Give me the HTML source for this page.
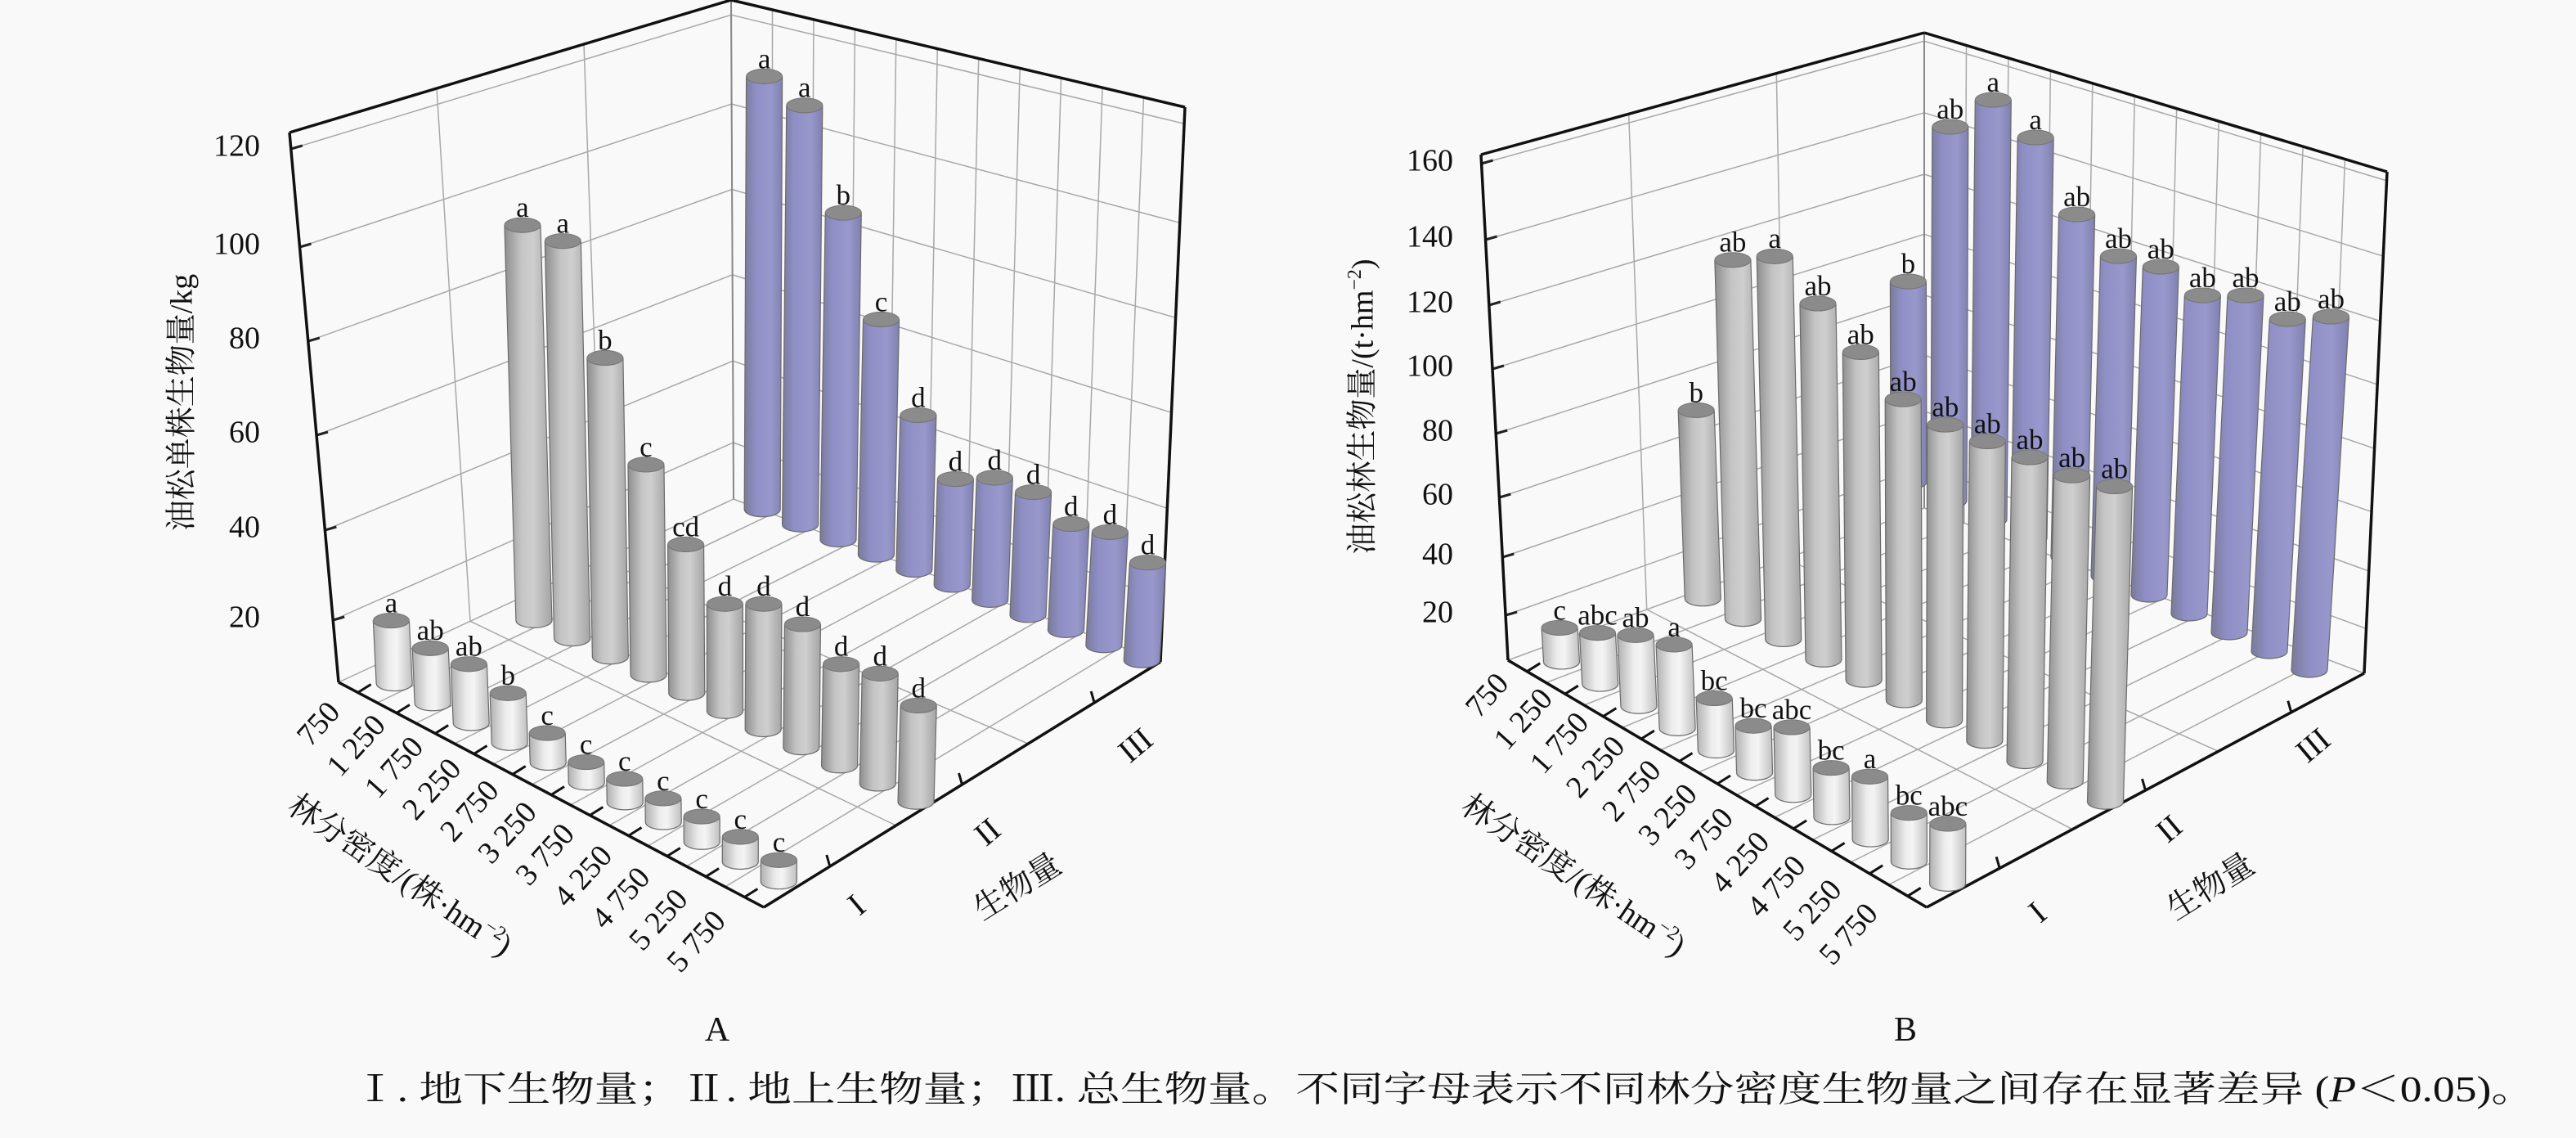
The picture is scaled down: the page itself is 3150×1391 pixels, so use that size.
<!DOCTYPE html>
<html><head><meta charset="utf-8">
<style>
html,body{margin:0;padding:0;background:#f9f9f9;}
svg{display:block;}
text{font-family:"Liberation Serif","Noto Serif CJK SC",serif;fill:#111;}
</style></head>
<body>
<svg id="s" width="3150" height="1391" viewBox="0 0 3150 1391" xmlns="http://www.w3.org/2000/svg">
<defs>
<linearGradient id="gG" x1="0" x2="1" y1="0" y2="0">
<stop offset="0" stop-color="#8e8e8e"/><stop offset="0.35" stop-color="#c4c4c4"/><stop offset="0.6" stop-color="#cfcfcf"/><stop offset="1" stop-color="#a4a4a4"/></linearGradient>
<linearGradient id="gL" x1="0" x2="1" y1="0" y2="0">
<stop offset="0" stop-color="#b0b0b0"/><stop offset="0.4" stop-color="#ececec"/><stop offset="0.6" stop-color="#f4f4f4"/><stop offset="1" stop-color="#c0c0c0"/></linearGradient>
<linearGradient id="gP" x1="0" x2="1" y1="0" y2="0">
<stop offset="0" stop-color="#7a7a9a"/><stop offset="0.3" stop-color="#8f8fc6"/><stop offset="0.7" stop-color="#9898cc"/><stop offset="1" stop-color="#8080b0"/></linearGradient>
</defs>
<g id="g"></g>
<text x="877" y="1272" font-size="42" text-anchor="middle">A</text>
<text x="2330" y="1272" font-size="42" text-anchor="middle">B</text>
<text x="432" y="1346" font-size="44" textLength="2668" lengthAdjust="spacingAndGlyphs">Ⅰ. 地下生物量；Ⅱ. 地上生物量；Ⅲ. 总生物量。不同字母表示不同林分密度生物量之间存在显著差异 (<tspan font-style="italic">P</tspan>＜0.05)。</text>
</svg>
<script>
var out=[];
function lerp(a,b,t){return [a[0]+(b[0]-a[0])*t,a[1]+(b[1]-a[1])*t];}
function line(a,b,c,w){out.push('<line x1="'+a[0].toFixed(1)+'" y1="'+a[1].toFixed(1)+'" x2="'+b[0].toFixed(1)+'" y2="'+b[1].toFixed(1)+'" stroke="'+c+'" stroke-width="'+w+'"/>');}
function txt(x,y,s,fs,rot,anch){out.push('<text x="'+x.toFixed(1)+'" y="'+y.toFixed(1)+'" font-size="'+fs+'" text-anchor="'+(anch||"middle")+'"'+(rot?' transform="rotate('+rot+' '+x.toFixed(1)+' '+y.toFixed(1)+')"':'')+' dominant-baseline="middle">'+s+'</text>');}

function chart(C){
  var L=C.L,F=C.F,B=C.B,R=C.R,TL=C.TL,TB=C.TB,TR=C.TR,TF=C.TF;
  function fl(s,t){return [(1-s)*(1-t)*L[0]+s*(1-t)*F[0]+(1-s)*t*B[0]+s*t*R[0],(1-s)*(1-t)*L[1]+s*(1-t)*F[1]+(1-s)*t*B[1]+s*t*R[1]];}
  function tp(s,t){return [(1-s)*(1-t)*TL[0]+s*(1-t)*TF[0]+(1-s)*t*TB[0]+s*t*TR[0],(1-s)*(1-t)*TL[1]+s*(1-t)*TF[1]+(1-s)*t*TB[1]+s*t*TR[1]];}
  function pt(s,t,w){return lerp(fl(s,t),tp(s,t),w);}
  var gc="#a8a8a8";
  for(var k=0;k<=11;k++){var s=k/11;line(fl(s,0),fl(s,1),gc,1.5);}
  for(var j=0;j<=3;j++){var t=j/3;line(fl(0,t),fl(1,t),gc,1.5);}
  for(var j=0;j<=3;j++){var t=j/3;line(pt(0,t,0),pt(0,t,1),gc,1.5);}
  for(var k=0;k<=11;k++){var s=k/11;line(pt(s,1,0),pt(s,1,1),gc,1.5);}
  C.ticks.forEach(function(tk){
    var w=(L[1]-tk[1])/(L[1]-TL[1]);
    line(pt(0,0,w),pt(0,1,w),gc,1.5);line(pt(0,1,w),pt(1,1,w),gc,1.5);
    var a=pt(0,0,w);line(a,[a[0]+14,a[1]-4],"#222",3);
    txt(C.tickX,tk[1],tk[0],38,0,"end");
  });
  line(TB,B,"#888",2);
  line(L,TL,"#111",3.5);line(TL,TB,"#111",3.5);line(TB,TR,"#111",3.5);line(TR,R,"#111",3.5);
  line(L,F,"#111",3.5);line(F,R,"#111",3.5);
  for(var i=0;i<11;i++){var s=(i+0.5)/11;var a=fl(s,0);line(a,[a[0]+16,a[1]-10],"#111",3);}
  for(var j=0;j<3;j++){var a=fl(1,(j+0.5)/3);line(a,[a[0]-4,a[1]-14],"#111",3);}
  C.rows.forEach(function(row){
    for(var i=0;i<11;i++){
      var b=lerp(row.b0,row.b1,i/10);
      var ty=row.tops[i];var h=b[1]-ty;
      var dx=C.k*(b[0]-C.vx)*h;
      var r=22,ry=9;var tx=b[0]+dx;
      var d='M'+(b[0]-r)+','+b[1]+' A'+r+','+ry+' 0 0 0 '+(b[0]+r)+','+b[1]+' L'+(tx+r)+','+ty+' A'+r+','+ry+' 0 0 1 '+(tx-r)+','+ty+' Z';
      out.push('<path d="'+d+'" fill="url(#'+row.g+')" stroke="#6a6a6a" stroke-width="1.2"/>');
      out.push('<ellipse cx="'+tx.toFixed(1)+'" cy="'+ty.toFixed(1)+'" rx="'+r+'" ry="'+ry+'" fill="#8b8b8b" stroke="#777" stroke-width="1"/>');
      txt(tx,ty-18,row.lab[i],35,0);
    }
  });
  for(var i=0;i<11;i++){var p=lerp(C.d0,C.d1,i/10);txt(p[0],p[1],C.dl[i],38,-48);}
  txt(C.dt[0],C.dt[1],'林分密度/(株·hm<tspan dy="-12" font-size="24">−2</tspan><tspan dy="12">)</tspan>',39,34);
  [0,1,2].forEach(function(j){txt(C.bl[j][0],C.bl[j][1],["I","II","III"][j],40,-40);});
  txt(C.bt[0],C.bt[1],"生物量",39,-32);
  txt(C.yt[0],C.yt[1],C.ytxt,38,-90);
}
function zA(x,y){return [x*1.0045,y*0.887];}
function zB(x,y){return [1575+x*1.0045,y*0.887];}
var dl=["750","1 250","1 750","2 250","2 750","3 250","3 750","4 250","4 750","5 250","5 750"];
function ty(arr){return arr.map(function(v){return v*0.887+9;});}
chart({
  L:[414,834],F:[934,1109],B:[897,610],R:[1419,809],TL:[354,162],TB:[894,0],TR:[1449,131],TF:[909,330],
  k:0.00012,vx:894,tickX:318,
  ticks:[["120",182],["100",302],["80",417],["60",532],["40",648],["20",758]],
  rows:[
   {b0:zA(928,702),b1:zA(1390,910),g:"gP",tops:ty([95,135,283,430,562,650,648,668,712,723,765]),lab:["a","a","b","c","d","d","d","d","d","d","d"]},
   {b0:zA(650,855),b1:zA(1115,1105),g:"gG",tops:ty([300,322,483,630,740,822,822,850,905,918,962]),lab:["a","a","b","c","cd","d","d","d","d","d","d"]},
   {b0:zA(480,942),b1:zA(948,1215),g:"gL",tops:ty([845,883,905,945,1000,1040,1063,1090,1115,1143,1175]),lab:["a","ab","ab","b","c","c","c","c","c","c","c"]}
  ],
  d0:[392,887],d1:[854,1153],dl:dl,dt:[487,1073],bl:[[1050,1109],[1210,1020],[1391,914]],bt:[1246,1087],yt:[226,492],ytxt:"油松单株生物量/kg"
});
chart({
  L:[1844,807],F:[2356,1109],B:[2353,621],R:[2891,823],TL:[1811,189],TB:[2353,40],TR:[2919,210],TF:[2380,330],
  k:0.00013,vx:2353,tickX:1777,
  ticks:[["160",200],["140",293],["120",373],["100",451],["80",530],["60",608],["40",681],["20",752]],
  rows:[
   {b0:[2334,589],b1:[2824,819],g:"gP",tops:[335,146,113,159,253,304,317,352,352,381,378].map(function(v){return v+9;}),lab:["b","ab","a","a","ab","ab","ab","ab","ab","ab","ab"]},
   {b0:zB(505,825),b1:zB(995,1105),g:"gG",tops:ty([555,348,343,408,475,540,575,598,620,645,660]),lab:["b","ab","a","ab","ab","ab","ab","ab","ab","ab","ab"]},
   {b0:zB(333,912),b1:zB(803,1218),g:"gL",tops:ty([855,862,865,878,952,990,992,1048,1060,1110,1125]),lab:["c","abc","ab","a","bc","bc","abc","bc","a","bc","abc"]}
  ],
  d0:[1821,852],d1:[2263,1144],dl:dl,dt:[1922,1073],bl:[[2494,1118],[2655,1016],[2831,914]],bt:[2705,1087],yt:[1670,497],ytxt:"油松林生物量/(t·hm<tspan dy=\"-12\" font-size=\"24\">−2</tspan><tspan dy=\"12\">)</tspan>"
});
document.getElementById("g").innerHTML=out.join("");
</script>
</body></html>
